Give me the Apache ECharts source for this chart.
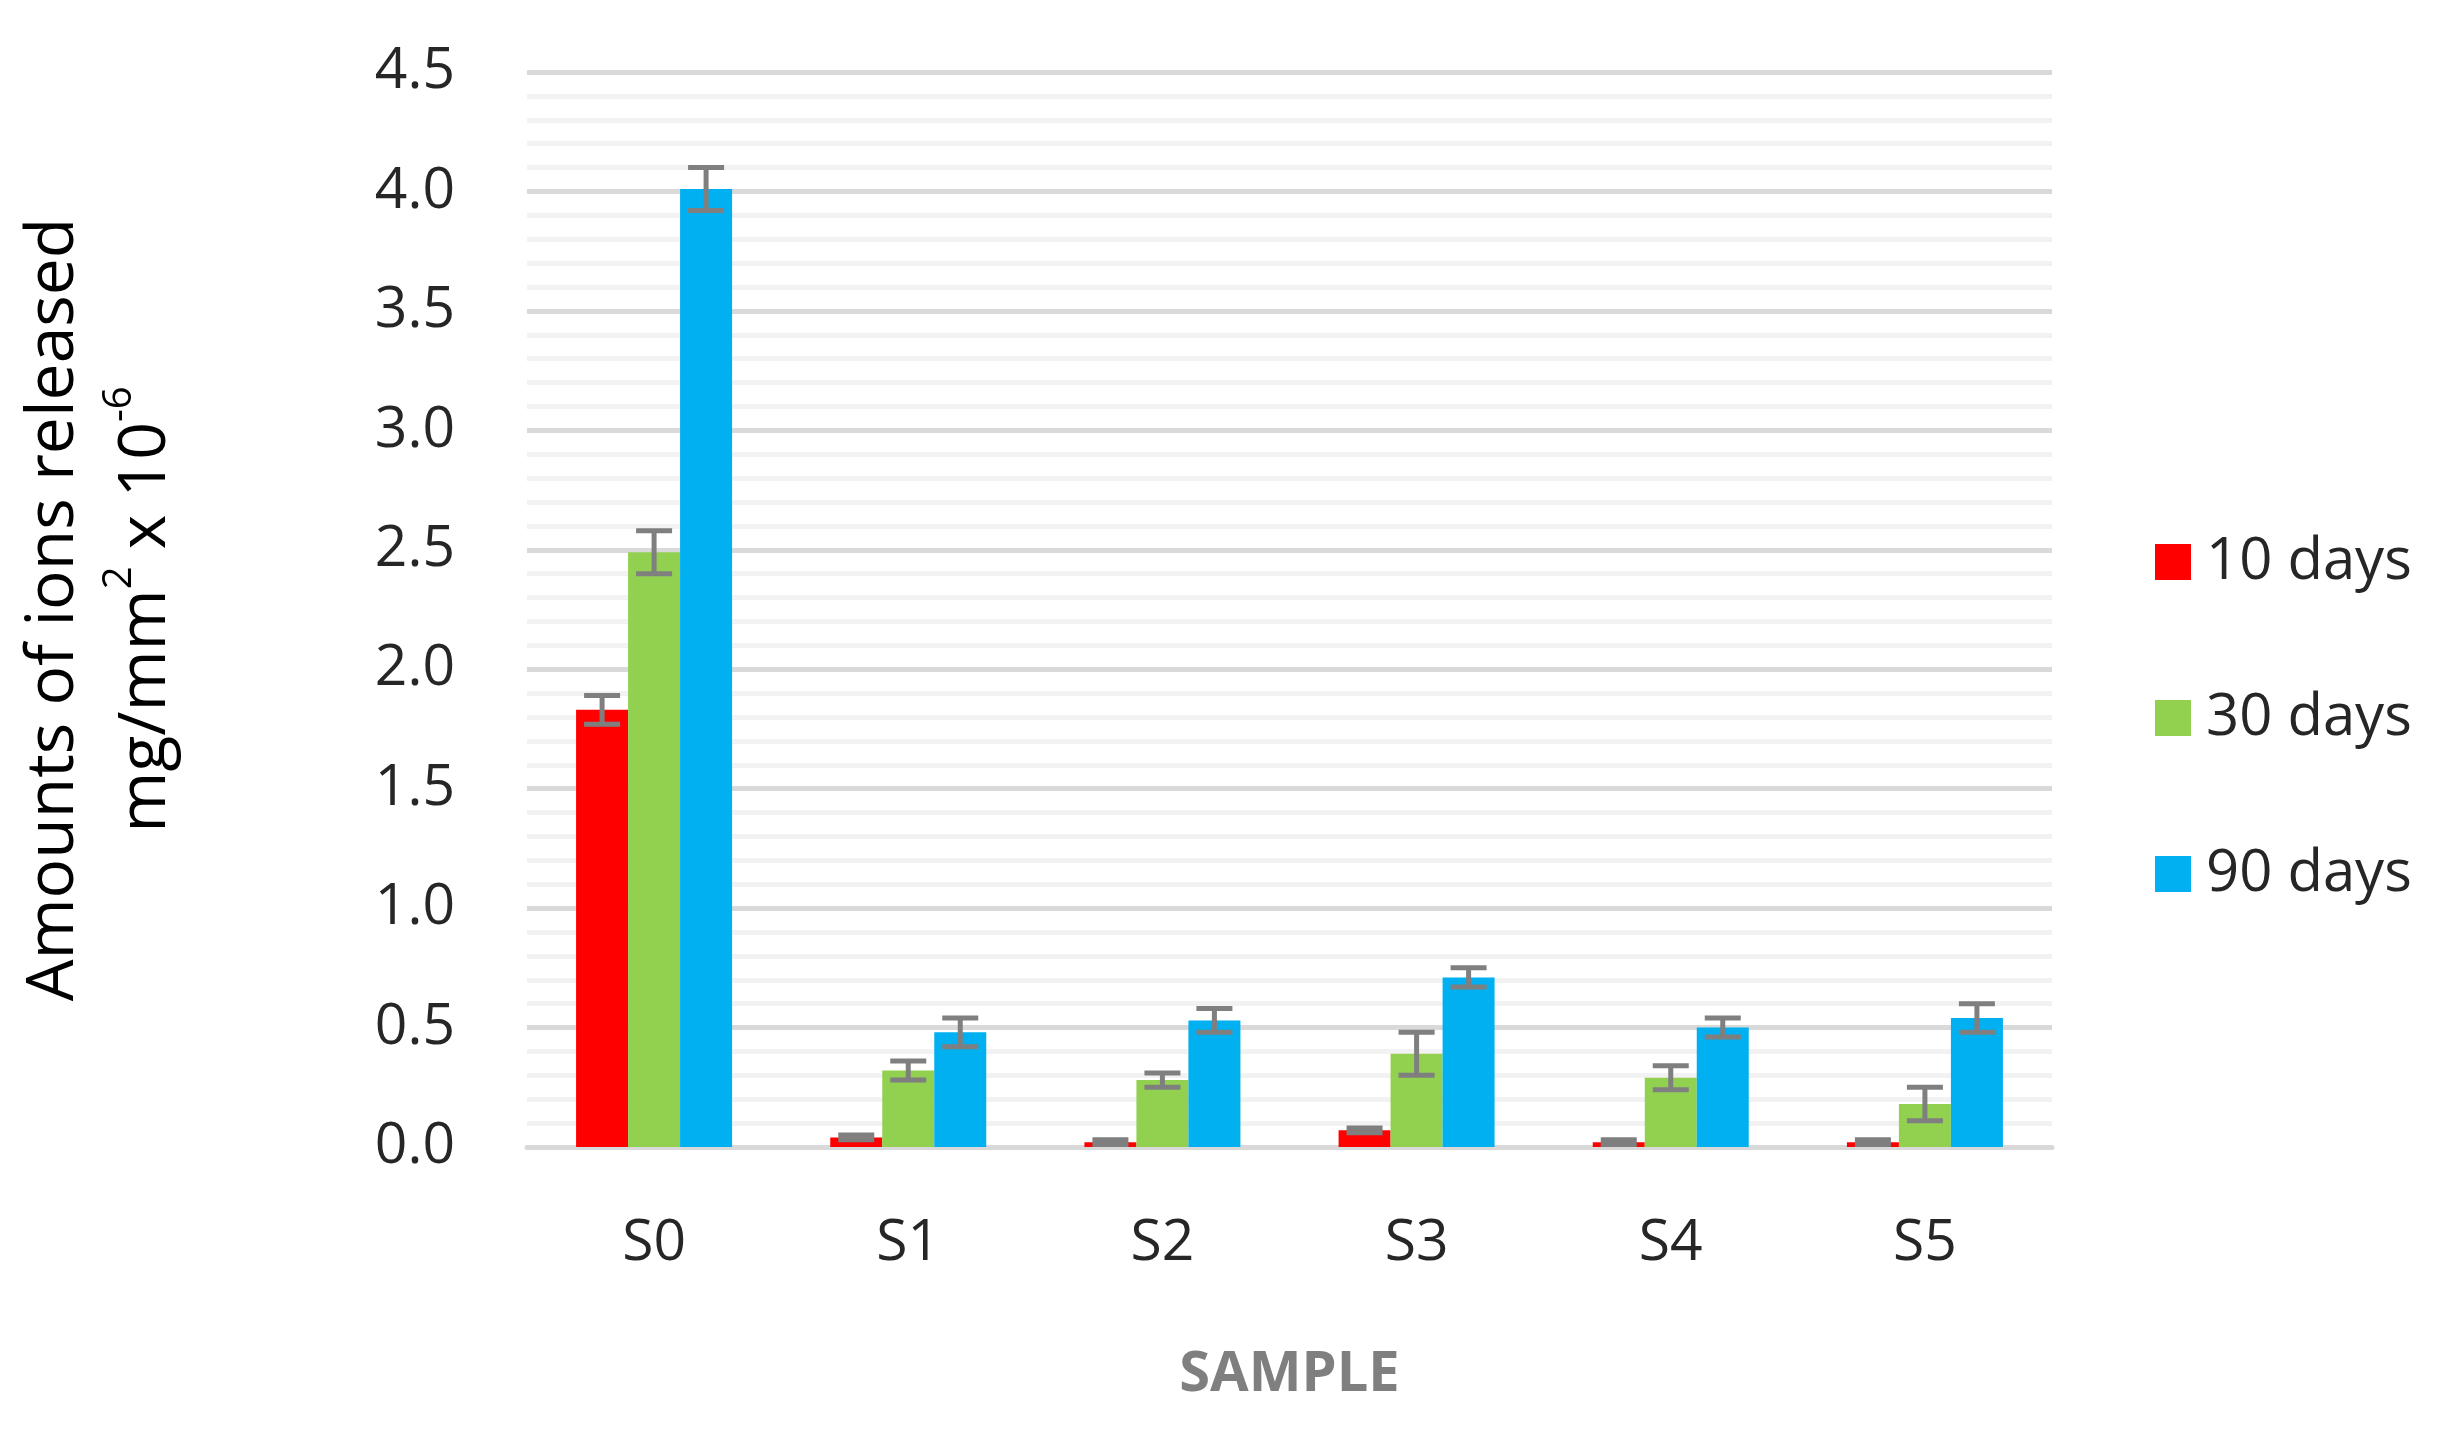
<!DOCTYPE html>
<html><head><meta charset="utf-8">
<script src="https://cdn.jsdelivr.net/npm/echarts@6/dist/echarts.min.js"></script>
<style>html,body{margin:0;padding:0;background:#fff}#c{width:2463px;height:1437px}</style>
</head><body><div id="c"></div>
<script>
const categories = ['S0','S1','S2','S3','S4','S5'];
const seriesNames = ['10 days','30 days','90 days'];
const days10 = [1.83, 0.04, 0.02, 0.07, 0.02, 0.02];
const days30 = [2.49, 0.32, 0.28, 0.39, 0.29, 0.18];
const days90 = [4.01, 0.48, 0.53, 0.71, 0.50, 0.54];
const err10 = [0.06, 0.01, 0.01, 0.01, 0.01, 0.01];
const err30 = [0.09, 0.04, 0.03, 0.09, 0.05, 0.07];
const err90 = [0.09, 0.06, 0.05, 0.04, 0.04, 0.06];
const yTicks = [0, 0.5, 1.0, 1.5, 2.0, 2.5, 3.0, 3.5, 4.0, 4.5];

const colors = ['#ff0000', '#92d050', '#00b0f0'];
const values = [days10, days30, days90];
const errs = [err10, err30, err90];
const BW = 52;
const font = 'Open Sans';

const chart = echarts.init(document.getElementById('c'));
const series = [];
values.forEach((v, i) => {
  series.push({
    name: seriesNames[i], type: 'bar', data: v, barWidth: BW, barGap: '0%',
    itemStyle: { color: colors[i] }, z: 2
  });
});
values.forEach((v, i) => {
  series.push({
    type: 'custom', z: 5, silent: true,
    data: v.map((val, k) => [k, val - errs[i][k], val + errs[i][k]]),
    renderItem: (params, api) => {
      const off = (i - 1) * BW;
      const lo = api.coord([api.value(0), api.value(1)]);
      const hi = api.coord([api.value(0), api.value(2)]);
      const x = lo[0] + off, w = 18;
      const st = { stroke: '#7f7f7f', lineWidth: 5 };
      return { type: 'group', children: [
        { type: 'line', shape: { x1: x, y1: lo[1], x2: x, y2: hi[1] }, style: st },
        { type: 'line', shape: { x1: x - w, y1: lo[1], x2: x + w, y2: lo[1] }, style: st },
        { type: 'line', shape: { x1: x - w, y1: hi[1], x2: x + w, y2: hi[1] }, style: st }
      ]};
    }
  });
});

chart.setOption({
  animation: false,
  textStyle: { fontFamily: font },
  grid: { left: 484, right: 411, top: 72, bottom: 290, containLabel: false },
  legend: {
    data: seriesNames, orient: 'vertical', left: 2150, top: 528,
    itemWidth: 36, itemHeight: 36, itemGap: 98, icon: 'rect',
    textStyle: { fontSize: 58, color: '#262626', fontFamily: font, padding: [0,0,0,10] }
  },
  xAxis: {
    type: 'category', data: categories,
    axisLine: { show: true, lineStyle: { color: '#d9d9d9', width: 5 } },
    axisTick: { show: false },
    axisLabel: { fontSize: 57, color: '#262626', margin: 68 },
    name: 'SAMPLE', nameLocation: 'middle', nameGap: 200,
    nameTextStyle: { fontSize: 56, fontWeight: 'bold', color: '#7f7f7f' }
  },
  yAxis: {
    type: 'value', min: 0, max: 4.5, interval: 0.5,
    axisLabel: { fontSize: 57, color: '#262626', margin: 72, formatter: v => v.toFixed(1) },
    splitLine: { lineStyle: { color: '#d9d9d9', width: 5 } },
    minorTick: { show: false, splitNumber: 5 },
    minorSplitLine: { show: true, lineStyle: { color: '#f2f2f2', width: 5 } },
    name: 'Amounts of ions released\n{n|mg/mm}{sup|2}{n| x 10}{sup|-6}',
    nameLocation: 'middle', nameGap: 335, nameRotate: 90,
    nameTextStyle: {
      fontSize: 66, color: '#000', lineHeight: 92,
      rich: { n: { fontSize: 66, color: '#000', fontFamily: font },
              sup: { fontSize: 40, color: '#000', verticalAlign: 'top', padding: [0,0,26,0], fontFamily: font } }
    }
  },
  series
});
</script></body></html>
